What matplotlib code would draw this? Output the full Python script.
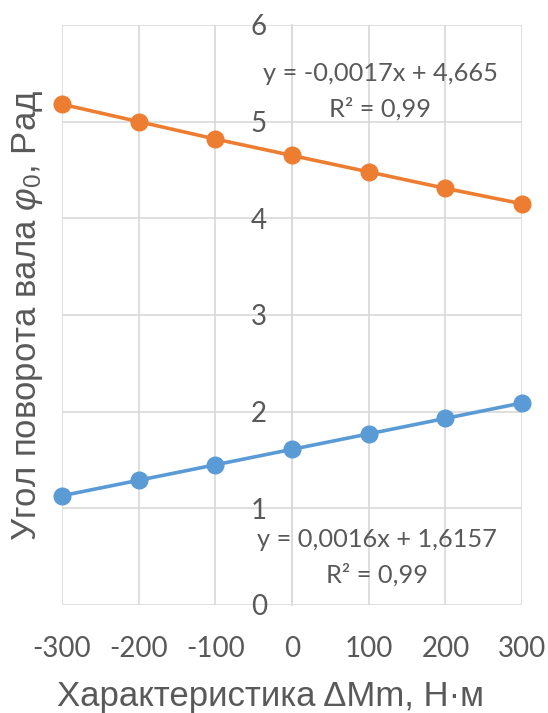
import matplotlib
matplotlib.use("Agg")
import matplotlib.pyplot as plt

# данные
x_vals = [-300, -200, -100, 0, 100, 200, 300]
phi_upper = [5.18, 5.00, 4.82, 4.65, 4.48, 4.31, 4.15]
phi_lower = [1.13, 1.29, 1.45, 1.61, 1.77, 1.93, 2.09]
eq_upper = ["y = -0,0017x + 4,665", "R² = 0,99"]
eq_lower = ["y = 0,0016x + 1,6157", "R² = 0,99"]
x_ticks = [-300, -200, -100, 0, 100, 200, 300]
y_ticks = [0, 1, 2, 3, 4, 5, 6]

TEXT = "#595959"
GRID = "#d9d9d9"
ORANGE = "#ed7d31"
BLUE = "#5b9bd5"

plt.rcParams["font.family"] = ["Lato", "DejaVu Sans"]
plt.rcParams["axes.unicode_minus"] = False
plt.rcParams["mathtext.fontset"] = "custom"
plt.rcParams["mathtext.rm"] = "Liberation Sans"
plt.rcParams["mathtext.it"] = "Liberation Sans:italic"

fig = plt.figure(figsize=(5.48, 7.13), dpi=100)
ax = fig.add_axes([0.113, 0.1515, 0.8397, 0.8135])

ax.set_xlim(-300, 300)
ax.set_ylim(0, 6)
ax.set_xticks(x_ticks)
ax.set_yticks(y_ticks)
ax.grid(True, color=GRID, linewidth=1.2)
ax.set_axisbelow(True)

for side in ["top", "right", "bottom"]:
    ax.spines[side].set_visible(False)
ax.spines["left"].set_position(("data", 0))
ax.spines["left"].set_color(GRID)
ax.spines["left"].set_linewidth(1.2)

ax.tick_params(axis="both", length=0, labelsize=20, labelcolor=TEXT)
ax.tick_params(axis="x", pad=22)
ax.tick_params(axis="y", pad=18)

ax.plot(x_vals, phi_upper, color=ORANGE, linewidth=2.6, marker="o", markersize=12, zorder=3, clip_on=False)
ax.plot(x_vals, phi_lower, color=BLUE, linewidth=2.6, marker="o", markersize=12, zorder=3, clip_on=False)

ax.text(115, 5.50, eq_upper[0], ha="center", va="center", fontsize=18.3, color=TEXT)
ax.text(115, 5.13, eq_upper[1], ha="center", va="center", fontsize=18.3, color=TEXT)
ax.text(111, 0.68, eq_lower[0], ha="center", va="center", fontsize=18.3, color=TEXT)
ax.text(111, 0.31, eq_lower[1], ha="center", va="center", fontsize=18.3, color=TEXT)

fig.text(0.494, 0.010, "Характеристика ΔMm, Н·м", ha="center", va="baseline", fontsize=25,
         color=TEXT, family="Liberation Sans")
fig.text(0.051, 0.558, r"Угол поворота вала $\varphi_{\mathit{0}}$, Рад", ha="center", va="center",
         rotation=90, fontsize=25, color=TEXT, family="Liberation Sans")

fig.savefig("out.png", dpi=100)
